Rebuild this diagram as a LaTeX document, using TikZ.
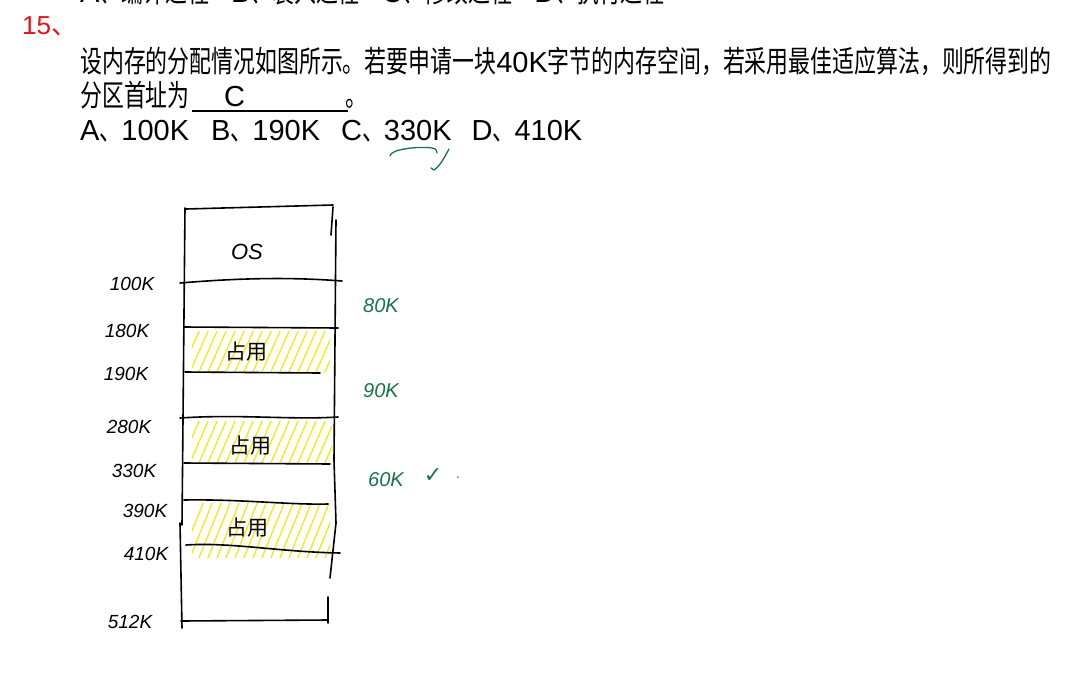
\documentclass[tikz,border=0pt]{standalone}
\usepackage{fontspec}
\setmainfont{Liberation Sans}
\newfontfamily\cjk[FakeStretch=0.73]{Noto Sans CJK SC}
\newfontfamily\cjkn{Noto Sans CJK SC}
\newfontfamily\symf{DejaVu Sans}
\newcommand\zh[1]{{\cjk\fontsize{30}{32}\selectfont #1}}
\definecolor{qred}{RGB}{230,20,20}
\definecolor{pengreen}{RGB}{25,115,70}
\definecolor{hl}{RGB}{240,235,20}
\begin{document}
\begin{tikzpicture}[x=1pt,y=-1pt,
  txt/.style={inner sep=0pt,anchor=base west,font=\fontsize{29}{31}\selectfont},
  pen/.style={line width=1.6pt,black,line cap=round,line join=round},
  hatch/.style={line width=1.3pt,hl,line cap=round},
  lab/.style={inner sep=0pt,font=\fontsize{19}{20}\selectfont\itshape},
  glab/.style={inner sep=0pt,text=pengreen,font=\fontsize{20}{21}\selectfont\itshape},
  occ/.style={inner sep=0pt,font=\cjkn\fontsize{21}{22}\selectfont}]
\useasboundingbox (0,0) rectangle (1085,691);
% ---- question text ----
\node[txt] (top) at (80,2) {A\zh{、编译过程}\hspace{22pt}B\zh{、装入过程}\hspace{22pt}C\zh{、修改过程}\hspace{22pt}D\zh{、执行过程}};
\node[txt,text=qred,font=\fontsize{26}{28}\selectfont] (num) at (22,34) {15{\cjkn 、}};
\node[txt] (l2) at (80,72) {\zh{设内存的分配情况如图所示。若要申请一块}40K\zh{字节的内存空间，若采用最佳适应算法，则所得到的}};
\node[txt] (l3) at (80,106) {\zh{分区首址为}};
\coordinate (ulA) at (192,111);
\coordinate (ulB) at (348,111);
\draw[line width=1.5pt] (ulA) -- (ulB);
\node[txt] (ans) at (224,106) {C};
\node[txt] (dot) at (345,106) {\zh{。}};
\node[txt] (l4) at (80,140) {A\zh{、}100K\hspace{22pt}B\zh{、}190K\hspace{21pt}C\zh{、}330K\hspace{20pt}D\zh{、}410K};
% green mark under 330K
\coordinate (g1) at (390,156);
\coordinate (g2) at (437,153);
\coordinate (g3) at (449,149);
\coordinate (g4) at (434,170);
\draw[line width=1.3pt,pengreen,line cap=round] (g1) .. controls (390,149) and (420,146) .. (432,148) .. controls (436,149) .. (g2);
\draw[line width=1.3pt,pengreen,line cap=round] (g3) .. controls (444,158) and (440,166) .. (g4) -- (431,168);
% ---- hatching ----
\begin{scope}
\clip (192,331) rectangle (330,372);
\foreach \x in {180,189,...,330} \draw[hatch] (\x,374) -- (\x+20,329);
\end{scope}
\begin{scope}
\clip (192,421) rectangle (332,463);
\foreach \x in {180,189,...,330} \draw[hatch] (\x,465) -- (\x+20,419);
\end{scope}
\begin{scope}
\clip (192,503) rectangle (330,557);
\foreach \x in {180,189,...,330} \draw[hatch] (\x,560) -- (\x+24,501);
\end{scope}
% ---- memory box ----
\coordinate (tl) at (186,209);
\coordinate (tr) at (333,205);
\coordinate (bl) at (182,628);
\coordinate (br) at (328,623);
\draw[pen] (tl) -- (tr);
\draw[pen] (185,208) -- (182,525);
\draw[pen] (180,523) -- (bl);
\draw[pen] (333,207) -- (331,235);
\draw[pen] (336,220) -- (334,460) -- (336,523) -- (330,578);
\draw[pen] (328,597) -- (br);
\coordinate (h1a) at (180,283); \coordinate (h1b) at (342,281);
\coordinate (h2a) at (184,327); \coordinate (h2b) at (338,328);
\coordinate (h3a) at (185,372); \coordinate (h3b) at (320,373);
\coordinate (h4a) at (180,418); \coordinate (h4b) at (338,417);
\coordinate (h5a) at (184,463); \coordinate (h5b) at (330,464);
\coordinate (h6a) at (184,500); \coordinate (h6b) at (328,504);
\coordinate (h7a) at (186,545); \coordinate (h7b) at (340,553);
\coordinate (h8a) at (181,621); \coordinate (h8b) at (328,620);
\draw[pen] (h1a) .. controls (240,278) and (290,277) .. (h1b);
\draw[pen] (h2a) -- (h2b);
\draw[pen] (h3a) -- (h3b);
\draw[pen] (h4a) .. controls (240,414) and (290,420) .. (h4b);
\draw[pen] (h5a) -- (h5b);
\draw[pen] (h6a) .. controls (240,499) and (290,505) .. (h6b);
\draw[pen] (h7a) .. controls (230,542) and (280,552) .. (h7b);
\draw[pen] (h8a) -- (h8b);
% ---- box texts ----
\node[inner sep=0pt,font=\fontsize{22}{24}\selectfont\itshape] (os) at (247,252) {OS};
\node[occ] (o1) at (246,352) {占用};
\node[occ] (o2) at (250,446) {占用};
\node[occ] (o3) at (247,528) {占用};
% ---- address labels ----
\node[lab] (a100) at (132,284) {100K};
\node[lab] (a180) at (127,331) {180K};
\node[lab] (a190) at (126,374) {190K};
\node[lab] (a280) at (129,427) {280K};
\node[lab] (a330) at (134,471) {330K};
\node[lab] (a390) at (145,511) {390K};
\node[lab] (a410) at (146,554) {410K};
\node[lab] (a512) at (130,622) {512K};
% ---- green sizes ----
\node[glab] (s80) at (381,306) {80K};
\node[glab] (s90) at (381,391) {90K};
\node[glab] (s60) at (386,480) {60K};
\node[inner sep=0pt,text=pengreen,font=\symf\fontsize{22}{22}\selectfont] (ok) at (433,476) {✓};
\node[inner sep=0pt,text=pengreen,font=\fontsize{14}{14}\selectfont] (pt) at (458,478) {.};
\end{tikzpicture}
\end{document}
